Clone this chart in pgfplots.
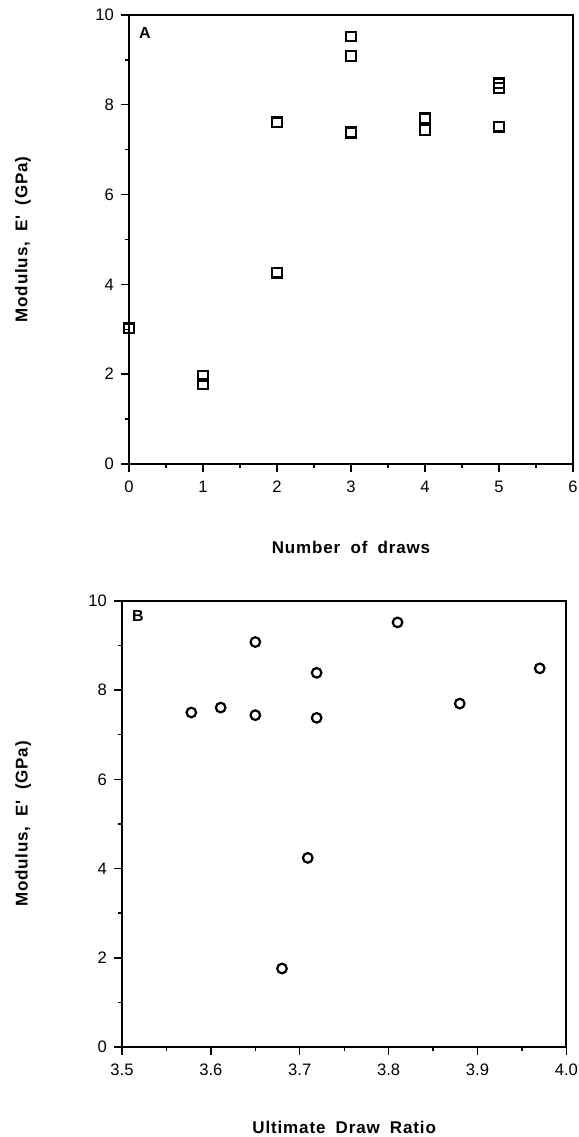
\documentclass[border=0pt]{standalone}
\usepackage{fontspec}
\setmainfont{Liberation Sans}
\newfontfamily\lblfont[LetterSpace=5]{Liberation Sans}
\usepackage{pgfplots}
\pgfplotsset{compat=1.18}
\begin{document}
\begin{tikzpicture}
\path[use as bounding box] (0,0) rectangle (289.5pt,568.5pt);
\pgfplotsset{
  common/.style={
    scale only axis,
    clip=false,
    axis line style={line width=1pt},
    tick align=outside,
    xtick pos=bottom, ytick pos=left,
    major tick length=4pt,
    minor tick length=1.8pt,
    every tick/.style={black, line width=0.7pt},
    minor tick num=1,
    /pgf/number format/assume math mode=true,
    tick label style={font=\fontsize{8.3}{9.6}\selectfont},
    xticklabel style={yshift=-1pt},
    ymin=0, ymax=10, ytick={0,2,4,6,8,10},
  }
}
% Panel A
\begin{axis}[common,
  at={(64.5pt,336.5pt)}, anchor=south west,
  width=222pt, height=224.5pt,
  xmin=0, xmax=6, xtick={0,1,2,3,4,5,6},
  xlabel={Number\hspace{0.6em}of\hspace{0.6em}draws},
  ylabel={Modulus,\hspace{0.6em}E'\hspace{0.6em}(GPa)},
  every axis x label/.style={at={(axis description cs:0.5,-0.185)}, anchor=center, font=\lblfont\fontsize{8.5}{10}\selectfont\bfseries},
  every axis y label/.style={at={(axis description cs:-0.239,0.5)}, rotate=90, anchor=center, font=\lblfont\fontsize{8.5}{10}\selectfont\bfseries},
]
\addplot[only marks, mark=square, mark size=2.4pt, line width=1.1pt, mark options={fill=white}]
coordinates {
(0,3.02) (1,1.96) (1,1.78) (2,7.61) (2,4.26) (3,9.52) (3,9.09) (3,7.39) (3,7.37)
(4,7.70) (4,7.44) (5,8.48) (5,8.37) (5,7.51)
};
\node[font=\fontsize{8}{9.6}\selectfont\bfseries] at (axis description cs:0.036,0.96) {A};
\end{axis}
% Panel B
\begin{axis}[common,
  at={(61pt,45pt)}, anchor=south west,
  width=222.2pt, height=223pt,
  xmin=3.5, xmax=4.0, xtick={3.5,3.6,3.7,3.8,3.9,4.0},
  xticklabel style={/pgf/number format/fixed, /pgf/number format/fixed zerofill, /pgf/number format/precision=1},
  xlabel={Ultimate\hspace{0.6em}Draw\hspace{0.6em}Ratio},
  ylabel={Modulus,\hspace{0.6em}E'\hspace{0.6em}(GPa)},
  every axis x label/.style={at={(axis description cs:0.5,-0.18)}, anchor=center, font=\lblfont\fontsize{8.5}{10}\selectfont\bfseries},
  every axis y label/.style={at={(axis description cs:-0.2225,0.5)}, rotate=90, anchor=center, font=\lblfont\fontsize{8.5}{10}\selectfont\bfseries},
]
\addplot[only marks, mark=o, mark size=2.4pt, line width=1.1pt, mark options={fill=white}]
coordinates {
(3.578,7.50) (3.611,7.61) (3.650,9.08) (3.650,7.44) (3.719,8.39) (3.719,7.38)
(3.810,9.52) (3.880,7.70) (3.970,8.49) (3.709,4.24) (3.680,1.76)
};
\node[font=\fontsize{8}{9.6}\selectfont\bfseries] at (axis description cs:0.036,0.966) {B};
\end{axis}
\end{tikzpicture}
\end{document}
